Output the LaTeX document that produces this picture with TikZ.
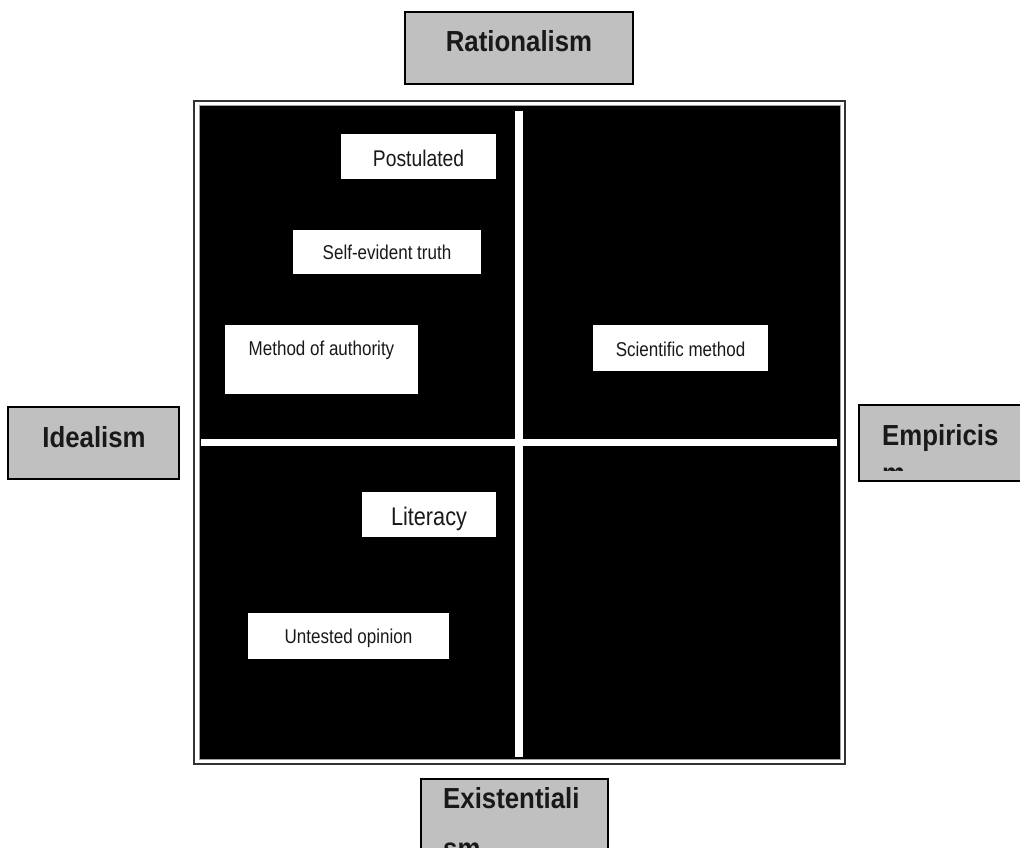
\documentclass[tikz,border=0pt]{standalone}
\usepackage{fontspec}
\setmainfont{Liberation Sans}
\newfontfamily\hdfont{Liberation Sans}[FakeStretch=0.89]
\newfontfamily\txfont{Liberation Sans}[FakeStretch=0.85]
\definecolor{headgray}{HTML}{C0C0C0}
\definecolor{rimgray}{HTML}{A0A0A0}
\tikzset{
  headbox/.style={draw=black, line width=1.4pt, fill=headgray, inner sep=0pt},
  headtext/.style={font=\hdfont\bfseries\fontsize{29}{36}\selectfont, inner sep=0pt, text=black!90},
  notebox/.style={fill=white, draw=none, inner sep=0pt},
  notetext/.style={font=\txfont\fontsize{20}{24}\selectfont, inner sep=0pt, anchor=base, text=black!90},
  bar/.style={fill=white, draw=none}
}
\begin{document}
\begin{tikzpicture}[x=1pt,y=-1pt]
\useasboundingbox (0,0) rectangle (1020,848);

% quadrant frame: thin outer rule, then the black field
\draw[line width=2pt, draw=black!80] (194,101) rectangle (845,764);
\node[fill=black, draw=rimgray, line width=1pt, minimum width=641pt, minimum height=653pt, inner sep=0pt] (field) at (519.5,432.5) {};

% axis bars
\fill[bar] (515,111) rectangle (523,757);
\fill[bar] (201,438.5) rectangle (837,445.5);

% axis labels
\node[headbox, minimum width=228pt, minimum height=72pt] (rat) at (519,48) {};
\node[headtext, anchor=base] (rat-t) at (519,52) {Rationalism};

\node[headbox, minimum width=171pt, minimum height=72pt] (ide) at (93.5,443) {};
\node[headtext, anchor=base] (ide-t) at (94,447) {Idealism};

\node[headbox, minimum width=180pt, minimum height=76pt] (emp) at (949,443) {};
\begin{scope}
  \clip (860,406) rectangle (1020,470);
  \node[headtext, anchor=base west] (emp-t) at (882,445) {Empiricis};
  \node[headtext, anchor=base west] (emp-t2) at (882,483) {m};
\end{scope}

\node[headbox, minimum width=187pt, minimum height=100pt] (exi) at (514.5,829) {};
\node[headtext, anchor=base west] (exi-t) at (443,808) {Existentiali};
\node[headtext, anchor=base west] (exi-t2) at (443,858) {sm};

% ways of knowing
\node[notebox, minimum width=155pt, minimum height=45pt] (pos) at (418.5,156.5) {};
\node[notetext, font=\txfont\fontsize{22.7}{26}\selectfont] (pos-t) at (418.5,166) {Postulated};

\node[notebox, minimum width=188pt, minimum height=44pt] (sel) at (387,252) {};
\node[notetext] (sel-t) at (387,259) {Self-evident truth};

\node[notebox, minimum width=193pt, minimum height=69pt] (met) at (321.5,359.5) {};
\node[notetext] (met-t) at (321.5,355) {Method of authority};

\node[notebox, minimum width=175pt, minimum height=46pt] (sci) at (680.5,348) {};
\node[notetext] (sci-t) at (680.5,356) {Scientific method};

\node[notebox, minimum width=134pt, minimum height=45pt] (lit) at (429,514.5) {};
\node[notetext, font=\txfont\fontsize{25.5}{30}\selectfont] (lit-t) at (429,525) {Literacy};

\node[notebox, minimum width=201pt, minimum height=46pt] (unt) at (348.5,636) {};
\node[notetext] (unt-t) at (348.5,643) {Untested opinion};
\end{tikzpicture}
\end{document}
